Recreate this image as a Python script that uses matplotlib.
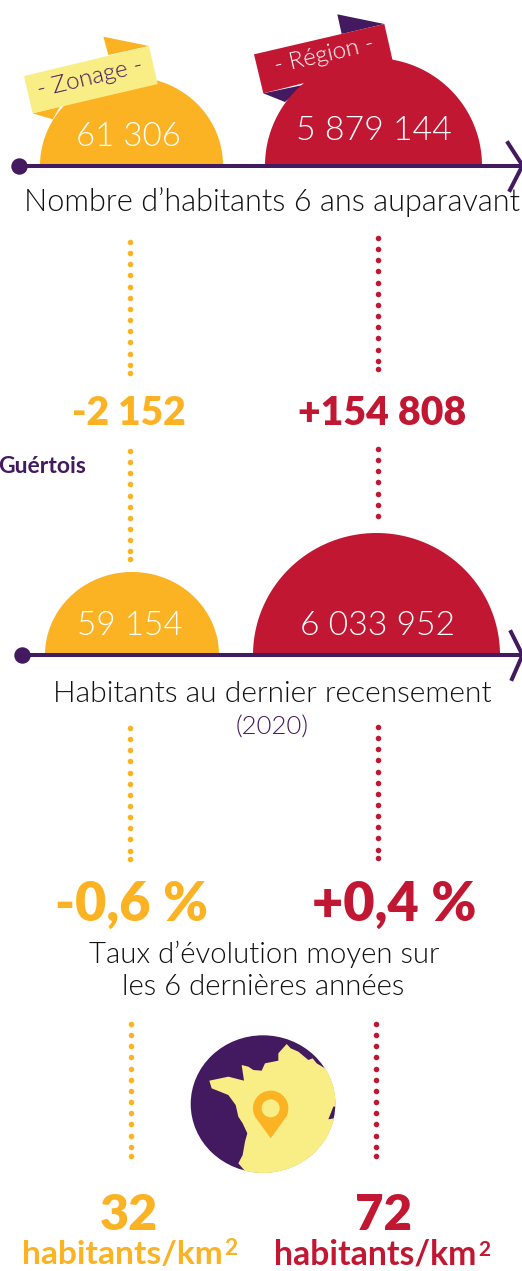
import matplotlib
matplotlib.use("Agg")
import matplotlib.pyplot as plt
import numpy as np
from matplotlib import font_manager as fm
from matplotlib.patches import Polygon, Ellipse

ORANGE, RED, PURPLE, YELLOW, INK = "#FBB323", "#C21732", "#43195F", "#F9EE86", "#111111"
FONT = "Lato"

# ---- data (text values)
population_before = ["61 306", "5 879 144"]
population_change = ["-2 152", "+154 808"]
population_latest = ["59 154", "6 033 952"]
yearly_rate = ["-0,6 %", "+0,4 %"]
density = ["32", "72"]
density_unit = "habitants/km"
series_names = ["- Zonage -", "- Région -"]

light_files = [f for f in fm.findSystemFonts() if f.endswith("Lato-Light.ttf")]

fig = plt.figure(figsize=(5.22, 12.71), dpi=100)
ax = fig.add_axes([0, 0, 1, 1])
ax.set_xlim(0, 522)
ax.set_ylim(1271, 0)
ax.axis("off")
renderer = fig.canvas.get_renderer()


def fit(x0, x1, y, s, color, weight="light", rot=0, va="baseline", zorder=10):
    """Text centred on (x0+x1)/2, baseline at y, sized so that it spans x0..x1."""
    if weight == "light" and light_files:
        fp = fm.FontProperties(fname=light_files[0], size=20)
    elif weight == "light":
        fp = fm.FontProperties(family=FONT, weight="normal", size=20)
    else:
        fp = fm.FontProperties(family=FONT, weight=weight, size=20)
    t = ax.text((x0 + x1) / 2, y, s, color=color, ha="center", va=va, clip_on=False,
                fontproperties=fp, zorder=zorder)
    w = t.get_window_extent(renderer).width
    t.set_fontsize(20 * (x1 - x0) / w)
    t.set_rotation(rot)
    t.set_rotation_mode("anchor")
    return t


def dome(x0, x1, top, base, color):
    cx, w = (x0 + x1) / 2, x1 - x0
    h = base - top
    th = np.radians(np.linspace(180, 360, 121))
    ax.fill(cx + w / 2 * np.cos(th), base + h * np.sin(th), color=color, lw=0, zorder=2)


def dots(x, y0, y1, color):
    ys = list(np.arange(y0, y1 - 4, 11.15)) + [y1]
    ax.scatter([x] * len(ys), ys, s=16, color=color, lw=0, zorder=3)


def axis_arrow(y, xdot, tip_top, tip_bot):
    ax.plot([xdot, 540], [y, y], color=PURPLE, lw=2.9, solid_capstyle="butt", zorder=4)
    ax.scatter([xdot], [y], s=140, color=PURPLE, lw=0, zorder=5)
    ax.plot([tip_top[0], 522.5, tip_bot[0]], [tip_top[1], y, tip_bot[1]],
            color=PURPLE, lw=2.9, zorder=4, solid_joinstyle="miter")


def z(points, ox, oy):
    return [(ox + a / 3, oy + b / 3) for a, b in points]


# top row
dome(40, 223, 77, 165.5, ORANGE)
dome(265, 482, 58, 165.5, RED)
axis_arrow(165.5, 19, (508, 143), (510, 190))
ax.add_patch(Polygon(z([(310, 110), (447, 138), (325, 165)], 0, 0), color=ORANGE, lw=0, zorder=1))
ax.add_patch(Polygon(z([(98, 340), (158, 358), (180, 320)], 0, 0), color=ORANGE, lw=0, zorder=1))
ax.add_patch(Polygon(z([(72, 228), (447, 138), (473, 252), (98, 340)], 0, 0), color=YELLOW, lw=0, zorder=6))
ax.add_patch(Polygon(z([(1012, 43), (1153, 72), (1025, 102)], 0, 0), color=PURPLE, lw=0, zorder=1))
ax.add_patch(Polygon(z([(790, 280), (918, 253), (855, 306)], 0, 0), color=PURPLE, lw=0, zorder=1))
ax.add_patch(Polygon(z([(762, 163), (1153, 72), (1178, 182), (790, 280)], 0, 0), color=RED, lw=0, zorder=6))
fit(36, 144, 78, series_names[0], PURPLE, rot=13.5, va="center")
fit(273, 375, 55, series_names[1], "white", rot=13, va="center")
fit(76, 181, 146, population_before[0], "white")
fit(296, 452, 140, population_before[1], "white")
fit(24, 520, 211, "Nombre d’habitants 6 ans auparavant", INK)

# change
dots(130, 242, 373, ORANGE)
dots(378, 238, 369, RED)
fit(72, 186, 425, population_change[0], ORANGE, "heavy")
fit(298, 466, 425, population_change[1], RED, "heavy")
fit(-2, 86, 473, "Guértois", PURPLE, "bold")
dots(130, 451, 559, ORANGE)
dots(378, 449, 516, RED)

# second row
dome(45, 219, 572, 655, ORANGE)
dome(253, 500, 533, 655, RED)
axis_arrow(655, 22, (511, 632), (512, 679))
fit(77, 183, 635, population_latest[0], "white")
fit(300, 455, 635, population_latest[1], "white")
fit(52, 492, 702.5, "Habitants au dernier recensement", INK)
fit(236, 309, 735, "(2020)", PURPLE)

# rates
dots(130, 728, 859, ORANGE)
dots(378, 727, 858, RED)
fit(55, 208, 921, yearly_rate[0], ORANGE, "heavy")
fit(312, 476, 921, yearly_rate[1], RED, "heavy")
fit(88, 440, 963, "Taux d’évolution moyen sur", INK)
fit(122, 405, 995, "les 6 dernières années", INK)

# map
dots(131, 1024, 1156, ORANGE)
dots(376, 1024, 1156, RED)
ax.add_patch(Ellipse((263, 1104), 144.6, 137.4, color=PURPLE, lw=0, zorder=2))
land = [(325, 100), (350, 72), (362, 85), (385, 95), (415, 120), (428, 115), (440, 130), (465, 145),
        (520, 200), (520, 258), (490, 260), (475, 298), (520, 290), (520, 470), (240, 470), (205, 430),
        (218, 405), (225, 365), (232, 340), (218, 310), (205, 290), (197, 255), (175, 225), (125, 205),
        (118, 182), (175, 170), (222, 182), (215, 135), (235, 140), (250, 150), (275, 152), (285, 130), (325, 122)]
france = Polygon(z(land, 170, 1020), color=YELLOW, lw=0, zorder=3)
ax.add_patch(france)
france.set_clip_path(Ellipse((263, 1104), 145.4, 138.2, transform=ax.transData))
pin_c = (170 + 302 / 3, 1020 + 265 / 3)
th = np.radians(np.linspace(-30, 210, 60))
pin = [(pin_c[0] + 17.7 * np.cos(t), pin_c[1] - 17.7 * np.sin(t)) for t in th]
pin = pin + [(pin_c[0], 1020 + 355 / 3)]
ax.add_patch(Polygon(pin, color=ORANGE, lw=0, zorder=4))
ax.add_patch(Ellipse(pin_c, 18, 18, color=YELLOW, lw=0, zorder=5))

fit(100, 158, 1230, density[0], ORANGE, "heavy")
fit(355, 412, 1230, density[1], RED, "heavy")
fit(22, 222, 1264, density_unit, ORANGE, "bold")
fit(224, 237, 1255, "2", ORANGE, "bold")
fit(274, 476, 1265, density_unit, RED, "bold")
fit(478, 490, 1256, "2", RED, "bold")

fig.savefig("out.png", dpi=100, facecolor="white")
